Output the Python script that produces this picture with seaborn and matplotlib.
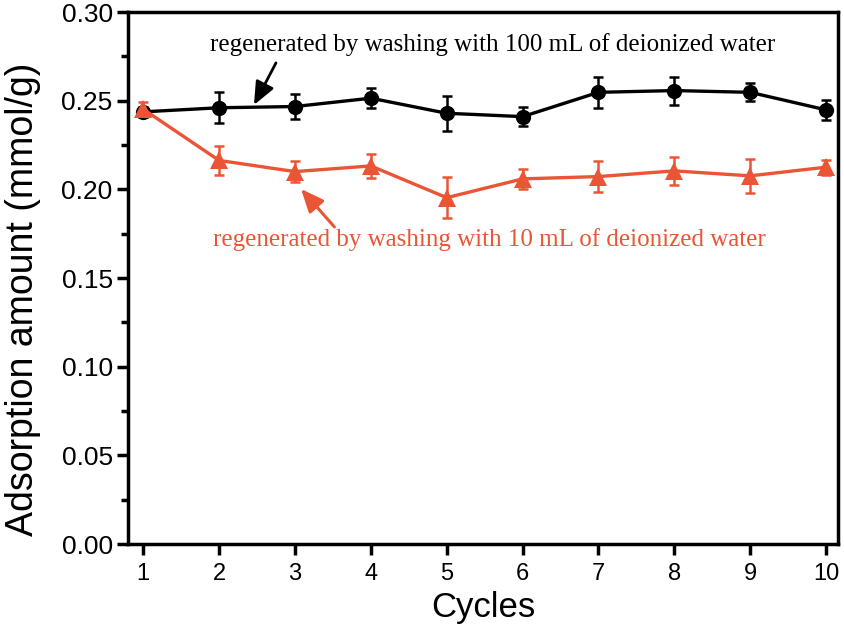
import matplotlib
matplotlib.use("Agg")
import numpy as np
import pandas as pd
import seaborn as sns
from matplotlib import pyplot as plt
from matplotlib.ticker import MultipleLocator

# data
cycles = [1, 2, 3, 4, 5, 6, 7, 8, 9, 10]
wash_100 = [0.2437, 0.2460, 0.2467, 0.2514, 0.2429, 0.2410, 0.2547, 0.2557, 0.2547, 0.2448]
err_100 = [0.0030, 0.0087, 0.0069, 0.0058, 0.0099, 0.0055, 0.0087, 0.0079, 0.0050, 0.0058]
wash_10 = [0.2452, 0.2163, 0.2100, 0.2132, 0.1953, 0.2059, 0.2072, 0.2104, 0.2076, 0.2125]
err_10 = [0.0040, 0.0082, 0.0058, 0.0067, 0.0117, 0.0056, 0.0089, 0.0078, 0.0094, 0.0043]

label_100 = "regenerated by washing with 100 mL of deionized water"
label_10 = "regenerated by washing with 10 mL of deionized water"
red = "#EA5535"

sns.set_style("ticks")
plt.rcParams['font.family'] = ['Liberation Sans', 'DejaVu Sans']
plt.rcParams['text.color'] = 'black'
plt.rcParams['axes.labelcolor'] = 'black'
plt.rcParams['xtick.color'] = 'black'
plt.rcParams['ytick.color'] = 'black'

df = pd.DataFrame({"Cycles": cycles * 2,
                   "Amount": wash_100 + wash_10,
                   "Series": ["100"] * 10 + ["10"] * 10})

fig = plt.figure(figsize=(8.45, 6.35), dpi=100)
ax = fig.add_axes([0.1515, 0.1433, 0.8405, 0.8378])

ax.errorbar(cycles, wash_100, yerr=err_100, fmt='none', ecolor='black',
            elinewidth=1.8, capsize=3.5, capthick=1.8, zorder=2)
ax.errorbar(cycles, wash_10, yerr=err_10, fmt='none', ecolor=red,
            elinewidth=1.8, capsize=3.5, capthick=1.8, zorder=2)

sns.lineplot(data=df[df["Series"] == "100"], x="Cycles", y="Amount", ax=ax,
             color='black', marker='o', markersize=11, linewidth=2.4,
             markeredgewidth=0, zorder=3)
sns.lineplot(data=df[df["Series"] == "10"], x="Cycles", y="Amount", ax=ax,
             color=red, marker='^', markersize=13, linewidth=2.4,
             markeredgewidth=0, zorder=4)

# annotations with arrows
head = '-|>,head_length=0.7,head_width=0.3'
ax.annotate("", xy=(2.46, 0.2476), xytext=(2.75, 0.2713),
            arrowprops=dict(arrowstyle=head, color='black', lw=2, mutation_scale=20,
                            shrinkA=0, shrinkB=0),
            zorder=6)
ax.text(5.6, 0.2814, label_100, fontsize=18, family='Liberation Serif',
        color='black', ha='center', va='center')
ax.annotate("", xy=(3.08, 0.2002), xytext=(3.52, 0.1788),
            arrowprops=dict(arrowstyle=head, color=red, lw=2.2, mutation_scale=20,
                            shrinkA=0, shrinkB=0),
            zorder=6)
ax.text(5.56, 0.1715, label_10, fontsize=18, family='Liberation Serif',
        color=red, ha='center', va='center')

ax.set_xlim(0.8, 10.16)
ax.set_ylim(0, 0.30)
ax.set_xticks(cycles)
ax.yaxis.set_minor_locator(MultipleLocator(0.025))
ax.set_yticks(np.arange(0, 0.301, 0.05))
ax.set_yticklabels([f"{v:.2f}" for v in np.arange(0, 0.301, 0.05)])
ax.tick_params(axis='both', which='major', direction='out', length=8, width=2.5,
               top=False, right=False)
ax.tick_params(axis='x', labelsize=17, pad=6)
ax.tick_params(axis='y', labelsize=19, pad=3)
ax.tick_params(axis='y', which='minor', direction='out', length=5, width=2.5)
for sp in ax.spines.values():
    sp.set_linewidth(2.5)
    sp.set_visible(True)
    sp.set_color('black')

ax.set_xlabel("Cycles", fontsize=25, labelpad=4)
ax.set_ylabel("Adsorption amount (mmol/g)", fontsize=27)
ax.yaxis.set_label_coords(-0.122, 0.46)

plt.savefig("out.png", dpi=100)
